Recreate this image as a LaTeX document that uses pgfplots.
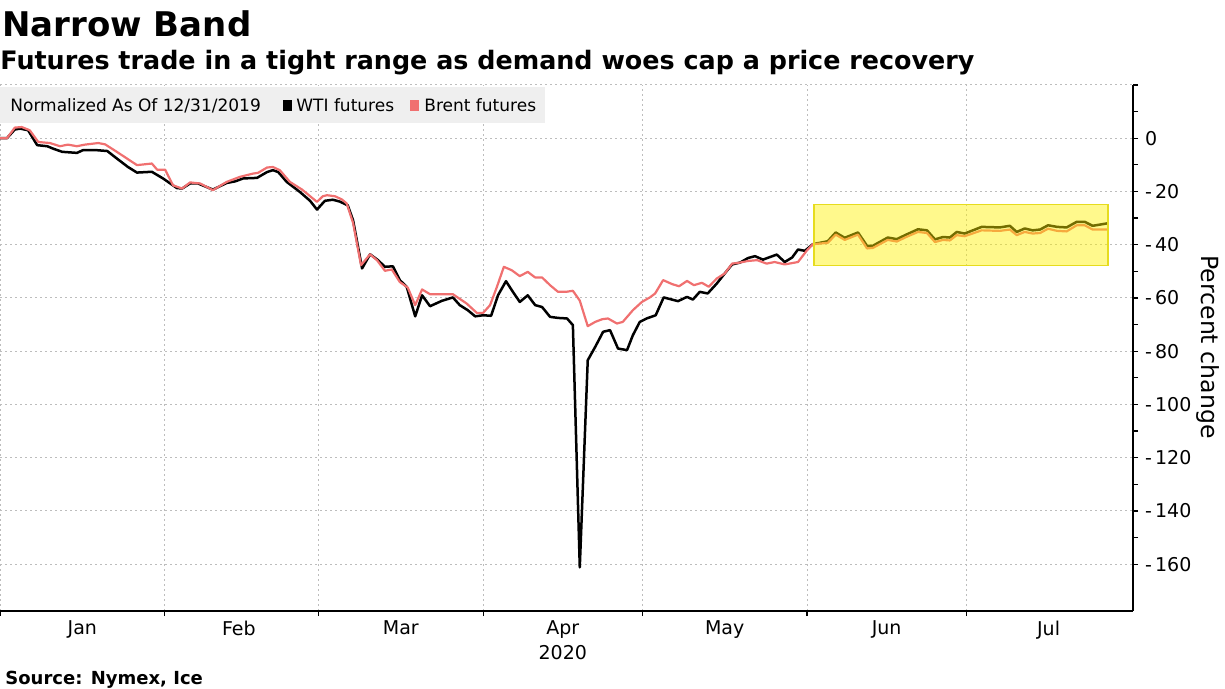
\documentclass[border=0pt]{standalone}
\usepackage{fontspec}
\setmainfont{DejaVu Sans}
\usepackage{pgfplots}
\pgfplotsset{compat=1.18}

\definecolor{brent}{HTML}{F07070}
\definecolor{gridgray}{HTML}{BDBDBD}
\definecolor{leggray}{HTML}{EFEFEF}
\definecolor{bandfill}{HTML}{FFF200}
\definecolor{bandline}{HTML}{E6DC1E}

\begin{document}
\begin{tikzpicture}
\useasboundingbox (0pt,0pt) rectangle (612.5pt,-344.5pt);

% title block
\node[anchor=base west, inner sep=0pt, font=\bfseries\fontsize{17}{20}\selectfont] at (1pt,-18.5pt) {Narrow Band};
\node[anchor=base west, inner sep=0pt, font=\bfseries\fontsize{12.7}{15}\selectfont] at (0pt,-35pt) {Futures trade in a tight range as demand woes cap a price recovery};

\begin{axis}[
    at={(0pt,-305.5pt)}, anchor=south west,
    scale only axis, width=566.5pt, height=263pt,
    xmin=0, xmax=213.4, ymin=-177.6, ymax=20,
    axis x line*=bottom, axis y line*=right,
    axis line style={black, line width=0.6pt},
    tick align=outside,
    major tick length=2.5pt, minor tick length=2.5pt,
    tick style={black, line width=0.6pt},
    xtick={0,31,60,91,121,152,182},
    xticklabels={,,,,,,},
    extra x ticks={15.5,45,75.5,106,136.5,167,197.5},
    extra x tick labels={Jan,Feb,Mar,{Apr\\2020},May,Jun,Jul},
    extra x tick style={grid=none, major tick length=0pt},
    xticklabel style={align=center, yshift=-1.5pt, font=\fontsize{9.5}{12.5}\selectfont},
    ytick={-160,-140,-120,-100,-80,-60,-40,-20,0,20},
    yticklabels={-\,160,-\,140,-\,120,-\,100,-\,80,-\,60,-\,40,-\,20,0,{}},
    minor y tick num=1,
    yticklabel style={font=\fontsize{9.5}{11.5}\selectfont},
    grid=major,
    grid style={gridgray, line width=0.5pt, dash pattern=on 1pt off 1.5pt},
  ]
  % WTI futures
  \addplot[black, line width=1.25pt, line join=round] coordinates {
    (0,0) (1.3,0) (2.8,3.3) (3.8,3.6) (5.3,3) (7.0,-2.6) (8.9,-3) (10.0,-3.9)
    (11.7,-5.1) (14.5,-5.5) (15.6,-4.5) (18.3,-4.5) (20.2,-4.8) (22.0,-7.6)
    (24.1,-10.8) (25.8,-12.9) (28.6,-12.6) (30.7,-15.1) (33.3,-18.7) (34.3,-18.9)
    (35.8,-17) (37.3,-17) (40.1,-19.3) (42.7,-16.8) (44.3,-16.2) (45.8,-15.1)
    (48.4,-14.9) (50.3,-12.7) (51.4,-12) (52.4,-12.7) (54.0,-16.4) (56.5,-20.2)
    (58.4,-23.5) (59.7,-26.8) (61.2,-23.5) (62.7,-23.1) (64.0,-23.8) (65.5,-25.2)
    (66.5,-30.8) (68.2,-48.9) (69.7,-43.6) (71.2,-45.8) (72.5,-48.3) (74.0,-48.1)
    (75.3,-53.3) (76.6,-55.8) (78.2,-66.9) (79.5,-59) (81.0,-63.1) (83.2,-61.1)
    (85.3,-59.8) (86.6,-62.7) (88.1,-64.6) (89.5,-66.9) (91.0,-66.5) (92.5,-66.7)
    (93.8,-59) (95.3,-53.7) (96.6,-57.7) (97.9,-61.5) (99.4,-59) (100.8,-62.7)
    (102.1,-63.4) (103.6,-67.1) (105.1,-67.5) (106.8,-67.7) (107.9,-70.2)
    (109.2,-161.2) (110.7,-83.4) (112.1,-78.4) (113.6,-72.7) (114.9,-72.1)
    (116.4,-79) (118.1,-79.6) (119.2,-74) (120.5,-69) (121.8,-67.7) (123.5,-66.5)
    (125.0,-59.8) (127.7,-61.2) (129.4,-59.6) (130.5,-60.6) (131.8,-57.7)
    (133.3,-58.3) (135.0,-54.6) (136.5,-50.8) (137.9,-47.4) (139.4,-46.7)
    (140.9,-45) (142.2,-44.3) (143.7,-45.6) (146.3,-43.7) (147.8,-46.5)
    (149.2,-44.8) (150.3,-41.8) (151.6,-42.3) (153.1,-39.8) (155.9,-38.7)
    (157.4,-35.4) (159.1,-37.4) (161.6,-35.4) (163.3,-40.4) (164.4,-40.4)
    (167.2,-37.3) (168.9,-37.9) (170.8,-36.1) (172.9,-34.2) (174.6,-34.6)
    (176.1,-38) (177.6,-37.1) (178.9,-37.3) (180.2,-35.2) (181.7,-35.8)
    (184.9,-33.3) (188.3,-33.5) (190.2,-32.9) (191.5,-35.2) (193.0,-33.9)
    (194.5,-34.6) (195.9,-34.3) (197.4,-32.7) (199.1,-33.3) (200.9,-33.5)
    (202.8,-31.4) (204.3,-31.4) (205.8,-32.9) (208.5,-32)
  };
  % Brent futures
  \addplot[brent, line width=1.1pt, line join=round] coordinates {
    (0,0) (1.3,0) (2.8,4) (4.1,4.2) (5.6,3) (7.2,-1.4) (9.4,-1.8) (11.3,-3)
    (12.8,-2.4) (14.5,-3) (16.0,-2.4) (18.5,-1.8) (19.8,-2.3) (22.0,-5.1)
    (23.9,-7.6) (25.8,-10.1) (28.6,-9.5) (29.6,-11.8) (31.1,-11.8) (32.6,-17.7)
    (34.3,-18.9) (35.8,-16.6) (37.7,-17) (40.1,-19.5) (42.7,-16.4) (45.2,-14.5)
    (47.6,-13.3) (48.6,-13) (50.3,-11) (51.4,-10.8) (52.7,-12) (54.6,-16.4)
    (56.9,-19.3) (59.7,-23.9) (60.8,-21.8) (61.6,-21.4) (63.1,-21.8) (64.4,-23)
    (65.3,-24.5) (66.5,-31.8) (68.0,-47.7) (69.7,-43.6) (71.0,-45.8) (72.5,-49.8)
    (73.8,-49.3) (75.3,-54) (76.8,-56.1) (78.2,-62.7) (79.5,-56.8) (81.0,-58.6)
    (83.2,-58.6) (85.3,-58.6) (87.9,-62.1) (89.8,-65.6) (91.0,-65.6) (92.3,-62.7)
    (93.6,-55.8) (94.9,-48.3) (96.4,-49.6) (97.9,-51.8) (99.4,-50.2) (100.8,-52.3)
    (102.1,-52.3) (103.6,-55.2) (105.1,-57.7) (106.6,-57.7) (107.9,-57.3)
    (109.2,-61) (110.7,-70.6) (112.1,-69) (113.4,-68) (114.5,-67.7) (116.2,-69.6)
    (117.3,-69) (119.2,-64.6) (120.9,-61.5) (122.4,-59.8) (123.4,-58.3)
    (124.9,-53.3) (126.6,-54.8) (127.9,-55.6) (129.4,-53.6) (130.7,-55.2)
    (132.2,-54.3) (133.5,-55.8) (135.0,-52.7) (136.5,-50.8) (137.9,-47.1)
    (139.4,-46.7) (140.9,-46.1) (142.6,-45.8) (144.4,-47.1) (145.9,-46.5)
    (147.8,-47.4) (150.3,-46.5) (152.0,-42.1) (153.1,-39.8) (155.9,-39.3)
    (157.4,-36.2) (159.1,-38.2) (161.6,-36.2) (163.3,-41.4) (164.4,-41.2)
    (167.2,-38.2) (168.9,-38.8) (170.8,-37.0) (172.9,-35.2) (174.6,-35.6)
    (176.1,-39) (177.6,-38.2) (178.9,-38.4) (180.2,-36.4) (181.7,-36.8)
    (184.9,-34.6) (188.3,-34.8) (190.2,-34.3) (191.5,-36.4) (193.0,-35.2)
    (194.5,-35.8) (195.9,-35.6) (197.4,-34.0) (199.1,-34.8) (200.9,-35.0)
    (202.8,-32.7) (204.3,-32.7) (205.8,-34.3) (208.5,-34.3)
  };
  % highlighted band
  \addplot[draw=bandline, line width=0.6pt, fill=bandfill, fill opacity=0.45, forget plot]
    coordinates {(153.3,-24.8) (208.7,-24.8) (208.7,-47.7) (153.3,-47.7) (153.3,-24.8)};
\end{axis}

% legend strip
\fill[leggray] (0pt,-43.5pt) rectangle (272.5pt,-61.5pt);
\node[anchor=base west, inner sep=0pt, font=\fontsize{8.5}{10}\selectfont] at (5pt,-56pt) {Normalized As Of 12/31/2019};
\fill[black] (141.3pt,-49.8pt) rectangle (145.8pt,-55.3pt);
\node[anchor=base west, inner sep=0pt, font=\fontsize{8.5}{10}\selectfont] at (148pt,-56pt) {WTI futures};
\fill[brent] (204.8pt,-49.8pt) rectangle (209.3pt,-55.3pt);
\node[anchor=base west, inner sep=0pt, font=\fontsize{8.5}{10}\selectfont] at (212pt,-56pt) {Brent futures};

% right axis title
\node[rotate=-90, inner sep=0pt, font=\fontsize{11.8}{14}\selectfont] at (604pt,-173.5pt) {Percent change};

% source
\node[anchor=base west, inner sep=0pt, font=\bfseries\fontsize{9}{11}\selectfont] at (2.5pt,-342pt) {Source: Nymex, Ice};
\end{tikzpicture}
\end{document}
